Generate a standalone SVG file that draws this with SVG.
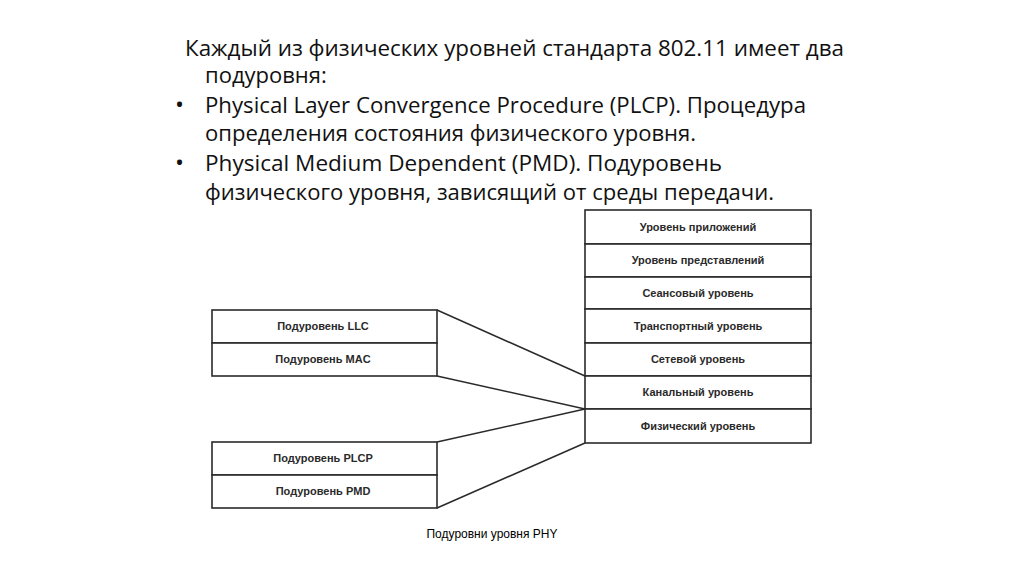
<svg xmlns="http://www.w3.org/2000/svg" width="1024" height="574" viewBox="0 0 1024 574">
<style>
.hd{font-family:"Open Sans","Noto Sans","DejaVu Sans",sans-serif;font-size:22px;fill:#111}
.bl{font-family:"Open Sans","Noto Sans","DejaVu Sans",sans-serif;font-size:24px;fill:#111}
.lb{font-family:"Liberation Sans",Arial,sans-serif;font-size:11px;font-weight:bold;fill:#2a2a2a;text-anchor:middle}
.cap{font-family:"Liberation Sans",Arial,sans-serif;font-size:12px;fill:#000;text-anchor:middle}
.bx{fill:#fff;stroke:#2a2a2a;stroke-width:1.6}
.cn{fill:none;stroke:#2a2a2a;stroke-width:1.5}
</style>
<rect width="1024" height="574" fill="#fff"/>
<g id="heading">
<text class="hd" x="185" y="56" textLength="659" lengthAdjust="spacingAndGlyphs">Каждый из физических уровней стандарта 802.11 имеет два</text>
<text class="hd" x="205" y="83">подуровня:</text>
<text class="bl" x="175" y="113">•</text>
<text class="hd" x="205" y="113" textLength="601" lengthAdjust="spacingAndGlyphs">Physical Layer Convergence Procedure (PLCP). Процедура</text>
<text class="hd" x="205" y="141" textLength="491" lengthAdjust="spacingAndGlyphs">определения состояния физического уровня.</text>
<text class="bl" x="175" y="171">•</text>
<text class="hd" x="205" y="171" textLength="517" lengthAdjust="spacingAndGlyphs">Physical Medium Dependent (PMD). Подуровень</text>
<text class="hd" x="205" y="200" textLength="569" lengthAdjust="spacingAndGlyphs">физического уровня, зависящий от среды передачи.</text>
</g>
<g id="connectors">
<line class="cn" x1="437" y1="310" x2="585" y2="376"/>
<line class="cn" x1="437" y1="376" x2="585" y2="409"/>
<line class="cn" x1="437" y1="442" x2="585" y2="409"/>
<line class="cn" x1="437" y1="508" x2="585" y2="443"/>
</g>
<g id="osi-application"><rect class="bx" x="585" y="210" width="226" height="34"/><text class="lb" x="698" y="231">Уровень приложений</text></g>
<g id="osi-presentation"><rect class="bx" x="585" y="244" width="226" height="33"/><text class="lb" x="698" y="264">Уровень представлений</text></g>
<g id="osi-session"><rect class="bx" x="585" y="277" width="226" height="32"/><text class="lb" x="698" y="297">Сеансовый уровень</text></g>
<g id="osi-transport"><rect class="bx" x="585" y="309" width="226" height="34"/><text class="lb" x="698" y="330">Транспортный уровень</text></g>
<g id="osi-network"><rect class="bx" x="585" y="343" width="226" height="33"/><text class="lb" x="698" y="363">Сетевой уровень</text></g>
<g id="osi-datalink"><rect class="bx" x="585" y="376" width="226" height="33"/><text class="lb" x="698" y="396">Канальный уровень</text></g>
<g id="osi-physical"><rect class="bx" x="585" y="409" width="226" height="34"/><text class="lb" x="698" y="430">Физический уровень</text></g>
<g id="llc"><rect class="bx" x="212" y="310" width="225" height="33"/><text class="lb" x="323" y="330">Подуровень LLC</text></g>
<g id="mac"><rect class="bx" x="212" y="343" width="225" height="33"/><text class="lb" x="323" y="363">Подуровень MAC</text></g>
<g id="plcp"><rect class="bx" x="212" y="442" width="225" height="33"/><text class="lb" x="323" y="462">Подуровень PLCP</text></g>
<g id="pmd"><rect class="bx" x="212" y="475" width="225" height="33"/><text class="lb" x="323" y="495">Подуровень PMD</text></g>
<g id="caption"><text class="cap" x="492" y="538">Подуровни уровня PHY</text></g>
</svg>
